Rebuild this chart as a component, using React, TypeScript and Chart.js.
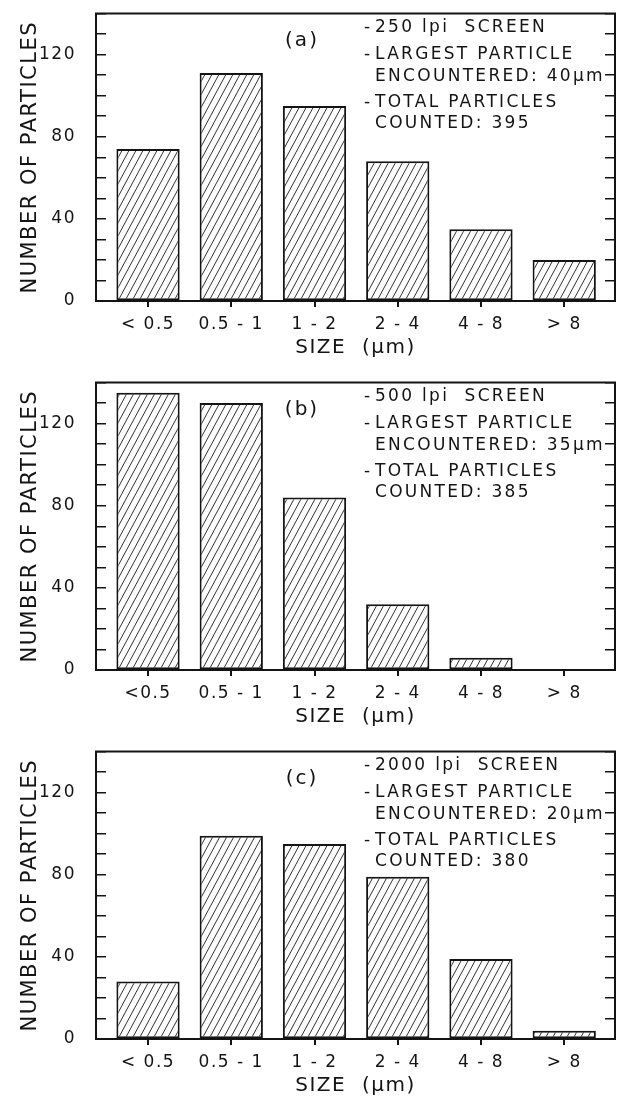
import React, { useEffect, useRef } from 'react';
import { Chart, registerables } from 'chart.js';

Chart.register(...registerables);

// ---- data ----
const sizeLabelsA = ['< 0.5', '0.5 - 1', '1 - 2', '2 - 4', '4 - 8', '> 8'];
const sizeLabelsB = ['<0.5', '0.5 - 1', '1 - 2', '2 - 4', '4 - 8', '> 8'];
const sizeLabelsC = ['< 0.5', '0.5 - 1', '1 - 2', '2 - 4', '4 - 8', '> 8'];
const countsA = [74, 111, 95, 68, 35, 20];
const countsB = [135, 130, 84, 32, 6, 0];
const countsC = [28, 99, 95, 79, 39, 4];
const notesA = ['250 lpi  SCREEN', 'LARGEST PARTICLE', 'ENCOUNTERED: 40μm', 'TOTAL PARTICLES', 'COUNTED: 395'];
const notesB = ['500 lpi  SCREEN', 'LARGEST PARTICLE', 'ENCOUNTERED: 35μm', 'TOTAL PARTICLES', 'COUNTED: 385'];
const notesC = ['2000 lpi  SCREEN', 'LARGEST PARTICLE', 'ENCOUNTERED: 20μm', 'TOTAL PARTICLES', 'COUNTED: 380'];
const bulletLines = [0, 1, 3];
const yLabelValues = [0, 40, 80, 120];
const yMax = 140;
const yStep = 10;
const xTitle = 'SIZE  (μm)';
const yTitle = 'NUMBER OF PARTICLES';

// ---- style ----
const INK = '#141414';
const FONT = "'DejaVu Sans', sans-serif";
const PANEL_W = 628;
const PANEL_H = 369;
const NOTE_X = 364;
const NOTE_TEXT_X = 375;
const NOTE_Y = [28, 55, 77, 103, 124];

function makeHatch(ctx: CanvasRenderingContext2D): CanvasPattern {
  const w = 7;
  const h = 13;
  const c = document.createElement('canvas');
  c.width = w;
  c.height = h;
  const g = c.getContext('2d')!;
  g.fillStyle = '#ffffff';
  g.fillRect(0, 0, w, h);
  g.strokeStyle = '#333333';
  g.lineWidth = 1;
  for (const dx of [-w, 0, w]) {
    g.beginPath();
    g.moveTo(dx, h);
    g.lineTo(dx + w, 0);
    g.stroke();
  }
  return ctx.createPattern(c, 'repeat')!;
}

type PanelProps = {
  labels: string[];
  counts: number[];
  tag: string;
  notes: string[];
  top: number;
};

function Panel({ labels, counts, tag, notes, top }: PanelProps) {
  const ref = useRef<HTMLCanvasElement>(null);

  useEffect(() => {
    const canvas = ref.current!;
    const ctx = canvas.getContext('2d')!;
    const hatch = makeHatch(ctx);

    const decor = {
      id: 'decor',
      beforeDraw(chart: any) {
        (chart.ctx as any).letterSpacing = '1.5px';
      },
      afterDraw(chart: any) {
        const c = chart.ctx as CanvasRenderingContext2D;
        const a = chart.chartArea;
        c.save();
        c.strokeStyle = INK;
        c.lineWidth = 2;
        c.beginPath();
        c.moveTo(a.left - 1, a.top);
        c.lineTo(a.right + 1, a.top);
        c.stroke();
        c.fillStyle = INK;
        c.textBaseline = 'middle';
        (c as any).letterSpacing = '2px';
        c.font = `20px ${FONT}`;
        c.textAlign = 'center';
        c.fillText(tag, 302, 41);
        c.textAlign = 'left';
        (c as any).letterSpacing = '2.3px';
        c.font = `17px ${FONT}`;
        notes.forEach((line, i) => {
          if (bulletLines.includes(i)) c.fillText('-', NOTE_X, NOTE_Y[i]);
          c.fillText(line, NOTE_TEXT_X, NOTE_Y[i]);
        });
        c.restore();
      },
    };

    const chart = new Chart(canvas, {
      type: 'bar',
      data: {
        datasets: [
          {
            data: counts.map((v, i) => ({ x: i, y: v })),
            backgroundColor: hatch,
            borderColor: INK,
            borderWidth: 2,
            borderSkipped: false,
            barPercentage: 0.76,
            categoryPercentage: 1,
          },
        ],
      },
      options: {
        responsive: false,
        animation: false,
        events: [],
        layout: { padding: { top: 13.5, left: 0, right: 0, bottom: 0 } },
        plugins: { legend: { display: false }, tooltip: { enabled: false } },
        scales: {
          x: {
            type: 'linear',
            position: 'bottom',
            offset: false,
            min: -0.625,
            max: 5.61,
            afterBuildTicks: (s: any) => {
              s.ticks = labels.map((_, i) => ({ value: i }));
            },
            afterFit: (s: any) => {
              s.height = PANEL_H - 301;
              s.paddingLeft = 0;
              s.paddingRight = 0;
            },
            grid: { offset: false, drawOnChartArea: false, drawTicks: true, tickLength: 6, color: INK, lineWidth: 2 },
            border: { display: true, color: INK, width: 2 },
            ticks: {
              autoSkip: false,
              maxRotation: 0,
              padding: 7,
              color: INK,
              font: { family: FONT, size: 17 },
              callback: (v: any) => labels[v] ?? '',
            },
            title: {
              display: true,
              text: xTitle,
              color: INK,
              font: { family: FONT, size: 20 },
              padding: { top: 0, bottom: 9 },
            },
          },
          y: {
            type: 'linear',
            position: 'left',
            min: 0,
            max: yMax,
            afterFit: (s: any) => {
              s.width = 96;
              s.paddingTop = 0;
              s.paddingBottom = 0;
            },
            grid: { drawOnChartArea: false, drawTicks: true, tickLength: -10, color: INK, lineWidth: 1.5 },
            border: { display: true, color: INK, width: 2 },
            ticks: {
              stepSize: yStep,
              autoSkip: false,
              padding: 30,
              color: INK,
              font: { family: FONT, size: 17 },
              callback: (v: any) => (yLabelValues.includes(v) ? String(v) : ''),
            },
            title: {
              display: true,
              text: yTitle,
              color: INK,
              font: { family: FONT, size: 21 },
              padding: { top: 18, bottom: 0 },
            },
          },
          y2: {
            type: 'linear',
            position: 'right',
            min: 0,
            max: yMax,
            afterFit: (s: any) => {
              s.width = PANEL_W - 615;
              s.paddingTop = 0;
              s.paddingBottom = 0;
            },
            grid: { drawOnChartArea: false, drawTicks: true, tickLength: -10, color: INK, lineWidth: 1.5 },
            border: { display: true, color: INK, width: 2 },
            ticks: { stepSize: yStep, display: false },
          },
        },
      },
      plugins: [decor],
    } as any);

    return () => chart.destroy();
  }, [labels, counts, tag, notes]);

  return (
    <canvas
      ref={ref}
      width={PANEL_W}
      height={PANEL_H}
      style={{ position: 'absolute', left: 0, top, width: PANEL_W, height: PANEL_H, display: 'block' }}
    />
  );
}

export default function App() {
  return (
    <div style={{ position: 'absolute', left: 0, top: 0, width: PANEL_W, height: 1107, background: '#fff' }}>
      <Panel labels={sizeLabelsA} counts={countsA} tag="(a)" notes={notesA} top={0} />
      <Panel labels={sizeLabelsB} counts={countsB} tag="(b)" notes={notesB} top={369} />
      <Panel labels={sizeLabelsC} counts={countsC} tag="(c)" notes={notesC} top={738} />
    </div>
  );
}
